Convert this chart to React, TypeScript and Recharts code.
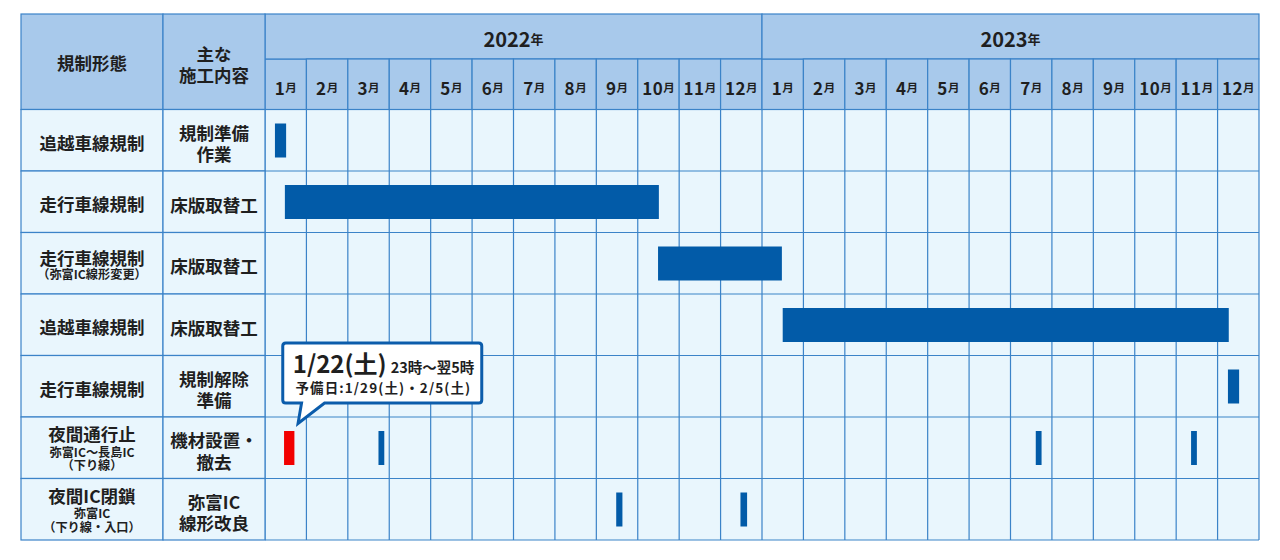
import React from 'react';
import { BarChart, Bar, XAxis, YAxis, CartesianGrid, Cell } from 'recharts';

// ---------- data ----------
const years = ['2022', '2023'];
const monthNames = ['1', '2', '3', '4', '5', '6', '7', '8', '9', '10', '11', '12'];
const headerKind = ['規制形態'];
const headerWork = ['主な', '施工内容'];

const rowKinds: string[] = ['追越車線規制', '走行車線規制', '走行車線規制', '追越車線規制', '走行車線規制', '夜間通行止', '夜間IC閉鎖'];
const rowKindNotes: string[][] = [[], [], ['（弥富IC線形変更）'], [], [], ['弥富IC～長島IC', '（下り線）'], ['弥富IC', '（下り線・入口）']];
const rowWorks: string[][] = [['規制準備', '作業'], ['床版取替工'], ['床版取替工'], ['床版取替工'], ['規制解除', '準備'], ['機材設置・', '撤去'], ['弥富IC', '線形改良']];

// periods in months from Jan 2022 (0 = start of Jan 2022, 24 = end of Dec 2023)
type Range = [number, number] | null;
const seg1: Range[] = [[0.24, 0.51], [0.48, 9.51], [9.49, 12.48], [12.5, 23.27], [23.25, 23.52], [0.46, 0.71], [8.48, 8.63]];
const seg2: Range[] = [null, null, null, null, null, [2.74, 2.88], [11.48, 11.64]];
const seg3: Range[] = [null, null, null, null, null, [18.61, 18.75], null];
const seg4: Range[] = [null, null, null, null, null, [22.36, 22.5], null];
const seg1Highlight: boolean[] = [false, false, false, false, false, true, false];

const calloutDate = '1/22(土)';
const calloutTime = '23時～翌5時';
const calloutSpare = '予備日:1/29(土)・2/5(土)';

// ---------- layout / style ----------
const CHART_W = 1280;
const CHART_H = 560;
const MARGIN = { top: 14, right: 21, bottom: 20, left: 21 };
const COL1_W = 142;
const COL2_W = 102;
const YAXIS_W = COL1_W + COL2_W;
const YEAR_H = 45;
const MONTH_H = 50.5;
const HEADER_H = YEAR_H + MONTH_H;
const N_MONTHS = years.length * monthNames.length;
const PLOT_W = CHART_W - MARGIN.left - MARGIN.right - YAXIS_W;
const PLOT_H = CHART_H - MARGIN.top - MARGIN.bottom - HEADER_H;
const ROW_H = PLOT_H / rowKinds.length;
const MONTH_W = PLOT_W / N_MONTHS;

const FONT = '"Noto Sans CJK JP", "Noto Sans", sans-serif';
const TEXT = '#1f1f1f';
const LINE = '#3b83c8';
const HEAD_FILL = '#a8c9eb';
const BODY_FILL = '#e9f6fd';
const BAR = '#025ba8';
const RED = '#f20000';
const CALLOUT = '#0b5cab';
const MAIN_FS = 17.5;
const NOTE_FS = 12.2;

const data = rowKinds.map((k, i) => ({
  id: String(i),
  kind: k,
  s1: seg1[i] ?? undefined,
  s2: seg2[i] ?? undefined,
  s3: seg3[i] ?? undefined,
  s4: seg4[i] ?? undefined,
  hl: seg1Highlight[i],
}));

const monthTicks = Array.from({ length: N_MONTHS }, (_, i) => i + 0.5);

const MonthTick = (props: any) => {
  const { x, y, payload } = props;
  const idx = Math.floor(payload.value);
  const left = x - MONTH_W / 2;
  const monthTop = y - MONTH_H;
  const yearTop = y - HEADER_H;
  const m = monthNames[idx % monthNames.length];
  return (
    <g>
      <rect x={left} y={monthTop} width={MONTH_W} height={MONTH_H} fill={HEAD_FILL} stroke={LINE} strokeWidth={1.2} />
      <text x={x} y={y - 22.5} textAnchor="middle" dominantBaseline="central" fontFamily={FONT} fontWeight={700} fill={TEXT}>
        <tspan fontSize={17} letterSpacing={0.5}>{m}</tspan>
        <tspan fontSize={11.5}>月</tspan>
      </text>
      {idx % monthNames.length === 0 && (
        <g>
          <rect x={left} y={yearTop} width={MONTH_W * monthNames.length} height={YEAR_H} fill={HEAD_FILL} stroke={LINE} strokeWidth={1.2} />
          <text x={left + (MONTH_W * monthNames.length) / 2} y={y - 72} textAnchor="middle" dominantBaseline="central" fontFamily={FONT} fontWeight={700} fill={TEXT}>
            <tspan fontSize={20}>{years[Math.floor(idx / monthNames.length)]}</tspan>
            <tspan fontSize={13}>年</tspan>
          </text>
        </g>
      )}
      {idx === 0 && (
        <g>
          <rect x={left - YAXIS_W} y={yearTop} width={COL1_W} height={HEADER_H} fill={HEAD_FILL} stroke={LINE} strokeWidth={1.2} />
          <rect x={left - COL2_W} y={yearTop} width={COL2_W} height={HEADER_H} fill={HEAD_FILL} stroke={LINE} strokeWidth={1.2} />
          <text x={left - YAXIS_W + COL1_W / 2} y={yearTop + HEADER_H / 2 + 1} textAnchor="middle" dominantBaseline="central" fontFamily={FONT} fontWeight={700} fontSize={MAIN_FS} fill={TEXT}>
            {headerKind[0]}
          </text>
          {headerWork.map((t, i) => (
            <text key={i} x={left - COL2_W / 2} y={yearTop + HEADER_H / 2 - 8.5 + i * 21.7} textAnchor="middle" dominantBaseline="central" fontFamily={FONT} fontWeight={700} fontSize={MAIN_FS} fill={TEXT}>
              {t}
            </text>
          ))}
        </g>
      )}
    </g>
  );
};

const RowTick = (props: any) => {
  const { x, y, payload } = props;
  const i = Number(payload.value);
  const top = y - ROW_H / 2;
  const c1 = x - YAXIS_W + COL1_W / 2;
  const c2 = x - COL2_W / 2;
  const notes = rowKindNotes[i];
  const works = rowWorks[i];
  let kindEls: React.ReactNode[] = [];
  if (notes.length === 0) {
    kindEls = [
      <text key="k" x={c1} y={y + 2} textAnchor="middle" dominantBaseline="central" fontFamily={FONT} fontWeight={700} fontSize={MAIN_FS} fill={TEXT}>{rowKinds[i]}</text>,
    ];
  } else if (notes.length === 1) {
    kindEls = [
      <text key="k" x={c1} y={y - 6} textAnchor="middle" dominantBaseline="central" fontFamily={FONT} fontWeight={700} fontSize={MAIN_FS} fill={TEXT}>{rowKinds[i]}</text>,
      <text key="n0" x={c1} y={y + 11} textAnchor="middle" dominantBaseline="central" fontFamily={FONT} fontWeight={700} fontSize={NOTE_FS} fill={TEXT}>{notes[0]}</text>,
    ];
  } else {
    kindEls = [
      <text key="k" x={c1} y={y - 14} textAnchor="middle" dominantBaseline="central" fontFamily={FONT} fontWeight={700} fontSize={MAIN_FS} fill={TEXT}>{rowKinds[i]}</text>,
      ...notes.map((n, j) => (
        <text key={'n' + j} x={c1} y={y + 4 + j * 13.5} textAnchor="middle" dominantBaseline="central" fontFamily={FONT} fontWeight={700} fontSize={NOTE_FS} fill={TEXT}>{n}</text>
      )),
    ];
  }
  return (
    <g>
      <rect x={x - YAXIS_W} y={top} width={COL1_W} height={ROW_H} fill={BODY_FILL} stroke={LINE} strokeWidth={1.2} />
      <rect x={x - COL2_W} y={top} width={COL2_W} height={ROW_H} fill={BODY_FILL} stroke={LINE} strokeWidth={1.2} />
      {kindEls}
      {works.map((w, j) => (
        <text key={'w' + j} x={c2} y={works.length === 1 ? y + 2.5 : y - 8 + j * 21.5} textAnchor="middle" dominantBaseline="central" fontFamily={FONT} fontWeight={700} fontSize={MAIN_FS} fill={TEXT}>
          {w}
        </text>
      ))}
    </g>
  );
};

const Callout = ({ bx, by }: { bx: number; by: number }) => {
  const L = bx - 1.3;
  const T = by - 88;
  const R = bx + 197.7;
  const B = by - 28;
  const r = 3;
  const tl = bx + 17.5;
  const tr = bx + 40.5;
  const tipX = bx + 14;
  const tipY = by - 7.5;
  const d = `M ${L + r} ${T} L ${R - r} ${T} Q ${R} ${T} ${R} ${T + r} L ${R} ${B - r} Q ${R} ${B} ${R - r} ${B} L ${tr} ${B} L ${tipX} ${tipY} L ${tl} ${B} L ${L + r} ${B} Q ${L} ${B} ${L} ${B - r} L ${L} ${T + r} Q ${L} ${T} ${L + r} ${T} Z`;
  return (
    <g>
      <path d={d} fill="#ffffff" stroke={CALLOUT} strokeWidth={3} strokeLinejoin="miter" />
      <text x={bx + 8.7} y={by - 58.5} fontFamily={FONT} fontWeight={700} fill={TEXT}>
        <tspan fontSize={24}>{calloutDate}</tspan>
        <tspan fontSize={14.5} dx={4}>{calloutTime}</tspan>
      </text>
      <text x={bx + 11.4} y={by - 38.5} fontFamily={FONT} fontWeight={700} fontSize={13.5} letterSpacing={1.1} fill={TEXT}>
        {calloutSpare}
      </text>
    </g>
  );
};

const okRect = (p: any) =>
  Number.isFinite(p.x) && Number.isFinite(p.y) && Number.isFinite(p.width) && Number.isFinite(p.height) && p.width > 0;

const PlainShape = (p: any) => {
  if (!okRect(p)) return <g />;
  return <rect x={p.x} y={p.y} width={p.width} height={p.height} fill={p.fill} />;
};

const MainShape = (p: any) => {
  if (!okRect(p)) return <g />;
  const hl = p.payload && p.payload.hl;
  return (
    <g>
      <rect x={p.x} y={p.y} width={p.width} height={p.height} fill={p.fill} />
      {hl && <Callout bx={p.x} by={p.y} />}
    </g>
  );
};

const vGen = (args: any) => {
  const o = args && args.offset;
  const left = o && Number.isFinite(o.left) ? o.left : MARGIN.left + YAXIS_W;
  const w = o && Number.isFinite(o.width) ? o.width : PLOT_W;
  return Array.from({ length: N_MONTHS + 1 }, (_, i) => left + (i * w) / N_MONTHS);
};
const hGen = (args: any) => {
  const o = args && args.offset;
  const top = o && Number.isFinite(o.top) ? o.top : MARGIN.top + HEADER_H;
  const h = o && Number.isFinite(o.height) ? o.height : PLOT_H;
  return Array.from({ length: rowKinds.length + 1 }, (_, i) => top + (i * h) / rowKinds.length);
};

export default function App() {
  return (
    <div style={{ position: 'absolute', left: 0, top: 0, width: CHART_W, height: CHART_H, background: '#ffffff' }}>
      <BarChart
        width={CHART_W}
        height={CHART_H}
        data={data}
        layout="vertical"
        margin={MARGIN}
        barSize={34}
        barGap={-34}
        barCategoryGap={0}
      >
        <CartesianGrid
          fill={BODY_FILL}
          fillOpacity={1}
          stroke={LINE}
          strokeWidth={1.2}
          verticalCoordinatesGenerator={vGen}
          horizontalCoordinatesGenerator={hGen}
        />
        <XAxis
          type="number"
          orientation="top"
          domain={[0, N_MONTHS]}
          ticks={monthTicks}
          interval={0}
          height={HEADER_H}
          axisLine={false}
          tickLine={false}
          tickSize={0}
          tickMargin={0}
          tick={<MonthTick />}
          allowDataOverflow
        />
        <YAxis
          type="category"
          dataKey="id"
          width={YAXIS_W}
          axisLine={false}
          tickLine={false}
          tickSize={0}
          tickMargin={0}
          interval={0}
          tick={<RowTick />}
        />
        <Bar dataKey="s1" fill={BAR} isAnimationActive={false} shape={<MainShape />}>
          {data.map((d, i) => (
            <Cell key={i} fill={d.hl ? RED : BAR} />
          ))}
        </Bar>
        <Bar dataKey="s2" fill={BAR} isAnimationActive={false} shape={<PlainShape />} />
        <Bar dataKey="s3" fill={BAR} isAnimationActive={false} shape={<PlainShape />} />
        <Bar dataKey="s4" fill={BAR} isAnimationActive={false} shape={<PlainShape />} />
      </BarChart>
    </div>
  );
}
